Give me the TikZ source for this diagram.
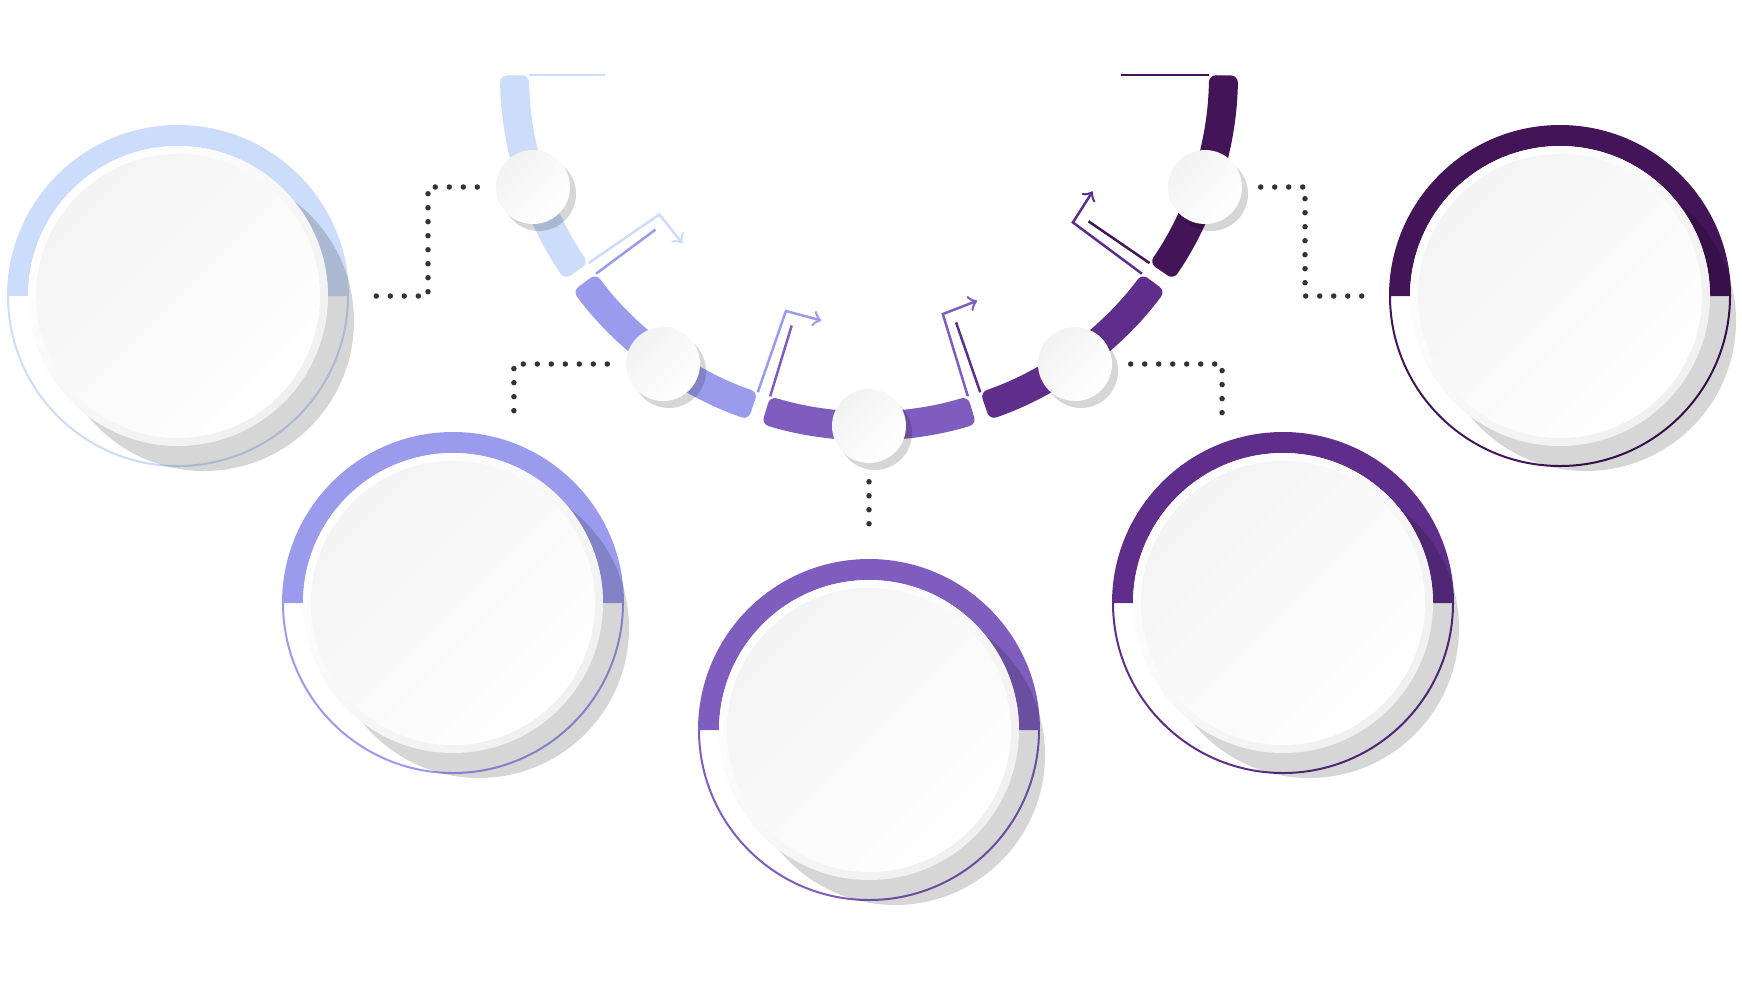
\documentclass[tikz,border=0pt]{standalone}
\usepackage{tikz}
\usetikzlibrary{shadows}
\definecolor{cA}{RGB}{204,220,251}
\definecolor{cB}{RGB}{155,155,238}
\definecolor{cC}{RGB}{127,93,191}
\definecolor{cD}{RGB}{95,46,138}
\definecolor{cE}{RGB}{67,20,87}

\begin{document}
\begin{tikzpicture}[x=0.1mm, y=-0.1mm,
	knob/.style={circle, minimum size=7.4mm, inner sep=0pt, top color=gray!10, bottom color=white, shading angle=45, drop shadow={shadow xshift=0.6mm, shadow yshift=-0.7mm, fill=black, opacity=.16}},
	disc/.style={circle, minimum size=30mm, inner sep=0pt, outer sep=2mm, top color=white, bottom color=gray!12, shading angle=45, drop shadow={shadow xshift=2.6mm, shadow yshift=-2.5mm, fill=black, opacity=.16}, path picture={\shade[top color=gray!9, bottom color=white, shading angle=45] (path picture bounding box.center) circle (142);}},
	band/.style={line width=0.25mm},
	dots/.style={draw=black!80, line width=0.55mm, line cap=round, dash pattern=on 0pt off 1.4mm, shorten <=1.8mm, shorten >=2.5mm}]
	\useasboundingbox (0,0) rectangle (1742,980);
	\begin{scope}[shift={(869,71)}]
		\foreach \a/\b/\c in {179.3/145.6/cA, 143.4/109.1/cB, 106.9/73.1/cC, 70.9/36.6/cD, 34.4/0.7/cE}
			\fill[\c, rounded corners=0.7mm] (\a:369) arc[start angle=\a, end angle=\b, radius=369] -- (\b:340) arc[start angle=\b, end angle=\a, radius=340] -- cycle;
		\foreach \g/\c/\d in {144.5/cA/cB, 108/cB/cC, 72/cC/cD, 35.5/cD/cE} {
			\draw[band, \c, ->] ({\g+1.1}:340) -- ({\g+1.1}:254) -- ({\g-7.2}:254);
			\draw[band, \d] ({\g-1.1}:340) -- ({\g-1.1}:266);
		}
		\draw[band, cA] (179.3:340) -- ++(76,0);
		\draw[band, cE] (0.7:340) -- ++(-88,0);
	\end{scope}
	\node[knob] (s1) at (533,187) {};
	\node[knob] (s2) at (663,364) {};
	\node[knob] (s3) at (869,426) {};
	\node[knob] (s4) at (1075,364) {};
	\node[knob] (s5) at (1205,187) {};
	\foreach \n/\x/\y/\c in {1/178/296/cA, 2/453/603/cB, 3/869/730/cC, 4/1283/603/cD, 5/1560/296/cE} {
		\fill[\c] (\x-170,\y) arc[start angle=180, end angle=360, radius=170] -- (\x+150,\y) arc[start angle=360, end angle=180, radius=150] -- cycle;
		\draw[\c, line width=0.2mm] (\x,\y) circle (170);
		\node[disc] (b\n) at (\x,\y) {};
	}
	\draw[dots] (s1) -- ++(-105,0) |- (b1);
	\draw[dots] (s2) -| (b2.69);
	\draw[dots] (s3) -- (b3);
	\draw[dots] (s4) -| (b4.111);
	\draw[dots] (s5) -- ++(100,0) |- (b5);
\end{tikzpicture}
\end{document}
